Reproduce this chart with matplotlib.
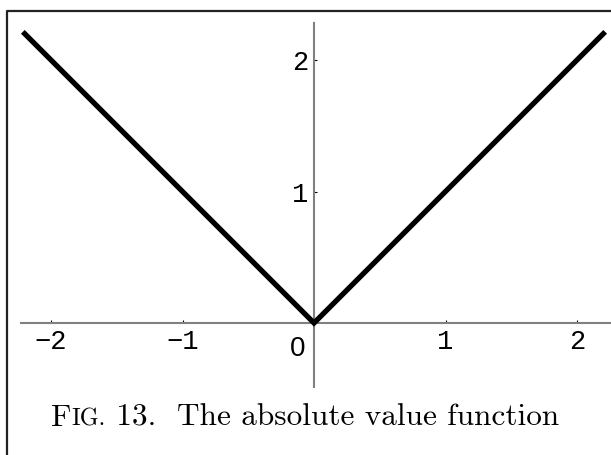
import matplotlib
matplotlib.use('Agg')
import matplotlib.pyplot as plt
from matplotlib.lines import Line2D
from matplotlib.offsetbox import TextArea, HPacker, AnnotationBbox

# data: y = |x| sampled at the corners of the curve
x_vals = [-2.2, 0.0, 2.2]
y_vals = [2.2, 0.0, 2.2]

xticks = [-2, -1, 1, 2]
xtick_labels = ['\u22122', '\u22121', '1', '2']
yticks = [1, 2]
ytick_labels = ['1', '2']

caption_parts = ['F', 'IG.', ' 13.  The absolute value function']

W, H = 611, 455
fig = plt.figure(figsize=(W / 100, H / 100), dpi=100)
ax = fig.add_axes([0, 0, 1, 1])
ax.patch.set_visible(False)

# pixel mapping: origin at (314, 323), 131 px per unit
ppu = 131.5
ax.set_xlim(-314 / ppu, (W - 314) / ppu)
ax.set_ylim(-(H - 323) / ppu, 323 / ppu)

ax.plot(x_vals, y_vals, color='black', linewidth=3.8, solid_joinstyle='miter', zorder=3)

for s in ['top', 'right']:
    ax.spines[s].set_visible(False)
ax.spines['left'].set_position(('data', 0))
ax.spines['bottom'].set_position(('data', 0))
ax.spines['left'].set_bounds(-0.49, 2.28)
ax.spines['bottom'].set_bounds(-2.23, 2.3)
for s in ['left', 'bottom']:
    ax.spines[s].set_color('#808080')
    ax.spines[s].set_linewidth(1.5)

tick_font = {'family': ['Liberation Mono', 'DejaVu Sans Mono'], 'size': 19.5}
ax.set_xticks(xticks)
ax.set_xticklabels(xtick_labels, fontdict=tick_font)
ax.set_yticks(yticks)
ax.set_yticklabels(ytick_labels, fontdict=tick_font)
ax.tick_params(direction='in', length=2.5, width=0.8, color='black', pad=4)

ax.annotate('0', xy=(0, 0), xytext=(-16, -33), textcoords='offset pixels',
            ha='center', va='baseline', family='Liberation Sans', size=20)

# caption with small caps "Fig."
parts = [TextArea(caption_parts[0], textprops=dict(family='cmr10', size=22.5)),
         TextArea(caption_parts[1], textprops=dict(family='cmr10', size=17.3)),
         TextArea(caption_parts[2], textprops=dict(family='cmr10', size=22.5))]
box = HPacker(children=parts, align='baseline', pad=0, sep=0)
ab = AnnotationBbox(box, (305 / W, 1 - 418 / H), xycoords='figure fraction',
                    frameon=False, box_alignment=(0.5, 0.5))
fig.add_artist(ab)

# page frame (left and top edges only are in view)
fig.add_artist(Line2D([7.5 / W, 7.5 / W, 1], [0, 1 - 10.5 / H, 1 - 10.5 / H],
                      transform=fig.transFigure, color='#222222', linewidth=1.6))

fig.savefig('out.png', dpi=100)
